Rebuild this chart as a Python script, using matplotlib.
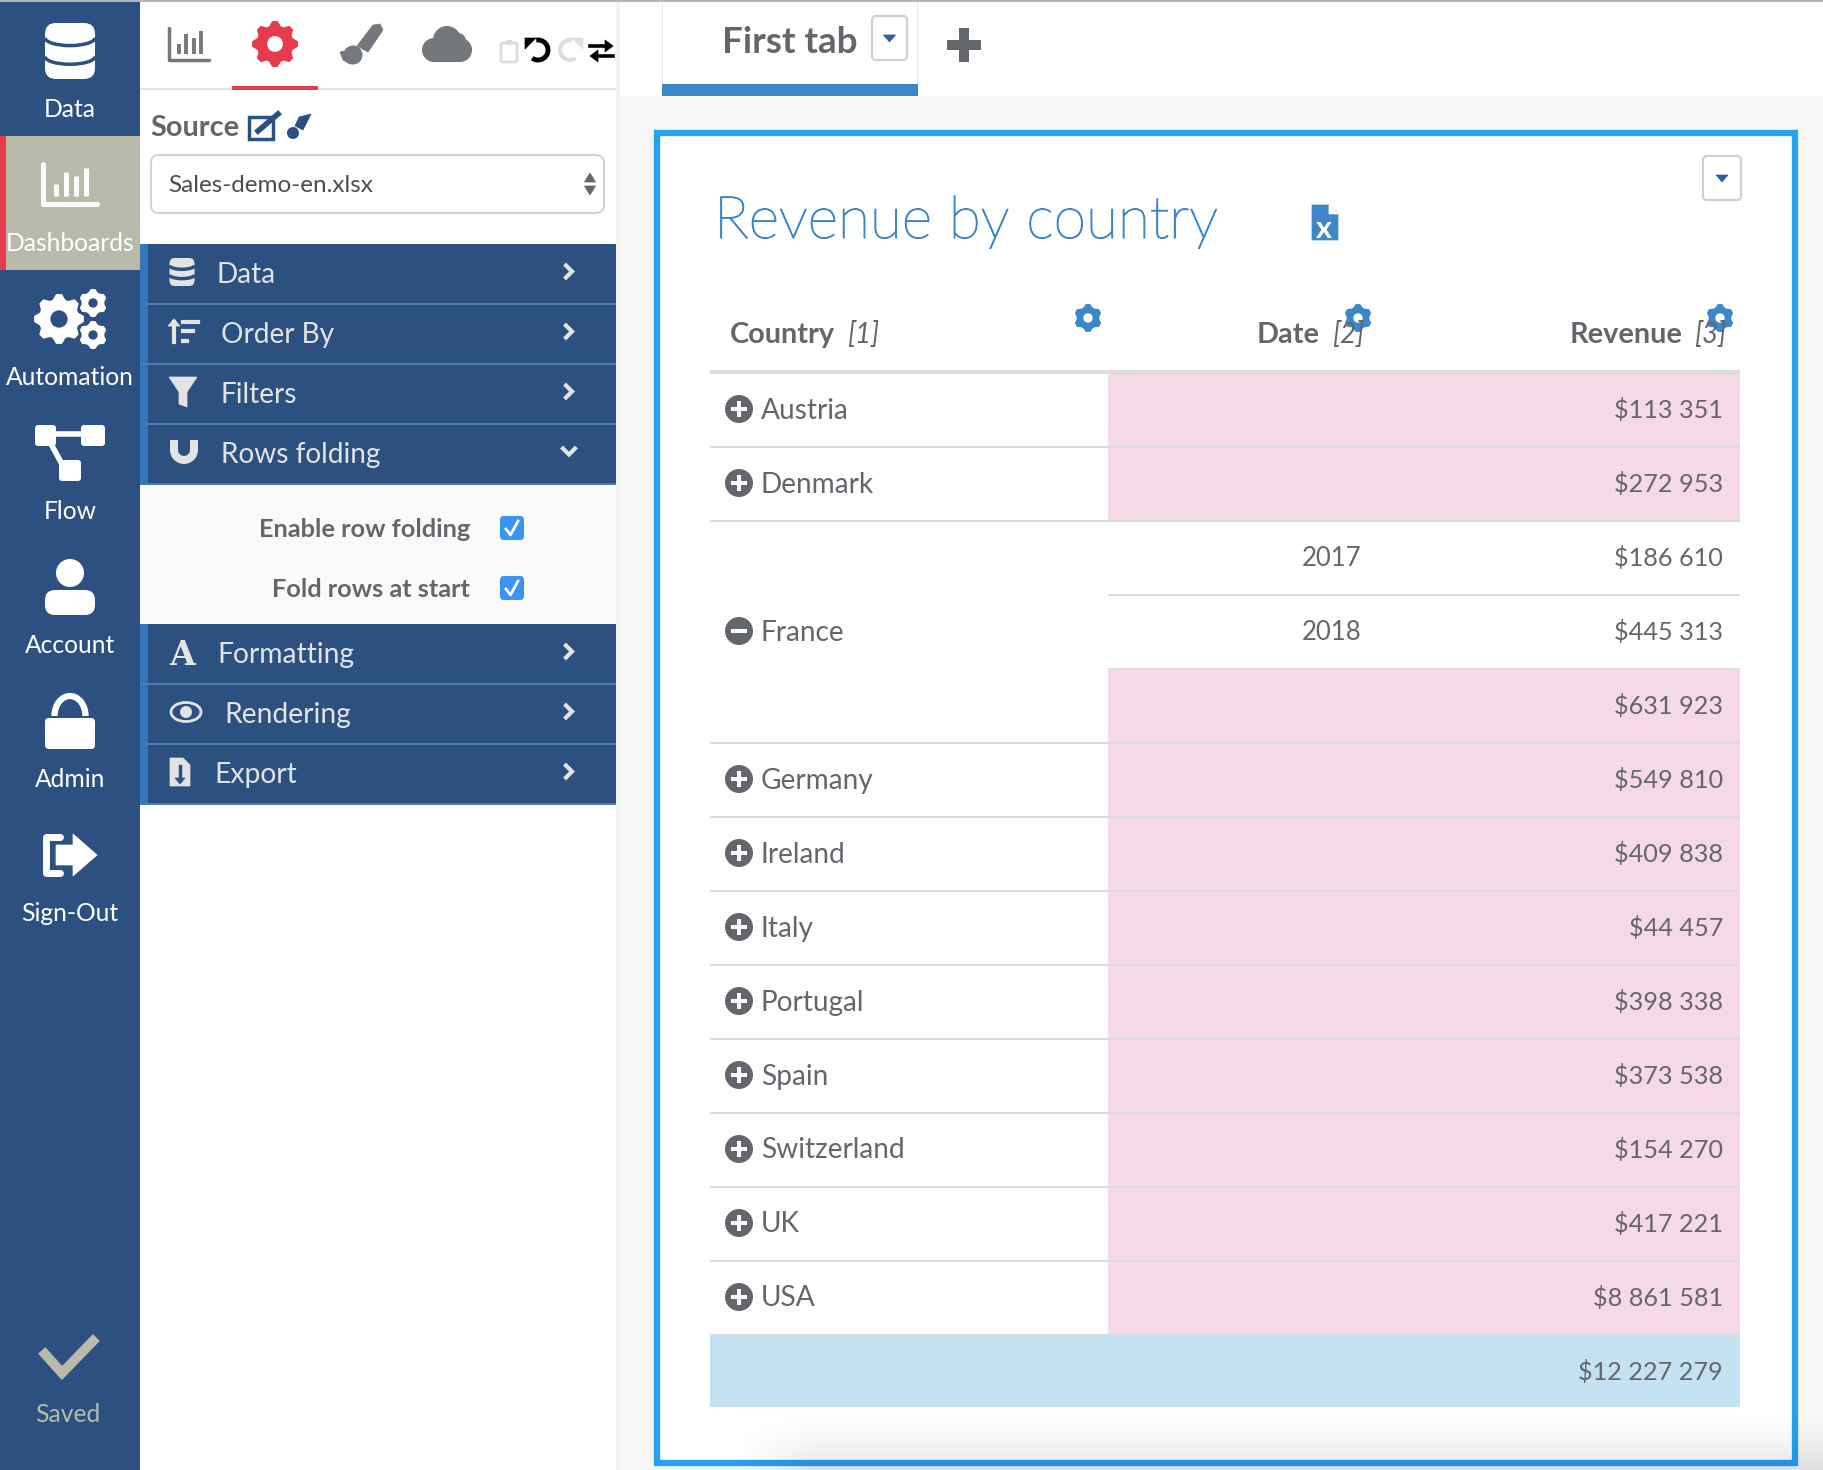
import numpy as np
import matplotlib
matplotlib.use("Agg")
import matplotlib.pyplot as plt
import matplotlib.patheffects as pe
from matplotlib.patches import Rectangle, Circle, Ellipse, Polygon, FancyBboxPatch, Arc, Wedge

plt.rcParams['font.family'] = ['Lato', 'DejaVu Sans']

# table content
row_country = ["Austria", "Denmark", "", "France", "", "Germany", "Ireland", "Italy",
               "Portugal", "Spain", "Switzerland", "UK", "USA"]
row_date = ["", "", "2017", "2018", "", "", "", "", "", "", "", "", ""]
row_revenue = ["$113 351", "$272 953", "$186 610", "$445 313", "$631 923", "$549 810",
               "$409 838", "$44 457", "$398 338", "$373 538", "$154 270", "$417 221",
               "$8 861 581"]
total_revenue = "$12 227 279"
headers = ["Country", "Date", "Revenue"]
header_idx = ["[1]", "[2]", "[3]"]

side_labels = ["Data", "Dashboards", "Automation", "Flow", "Account", "Admin", "Sign-Out"]
menu_top = ["Data", "Order By", "Filters", "Rows folding"]
menu_bottom = ["Formatting", "Rendering", "Export"]
check_labels = ["Enable row folding", "Fold rows at start"]

NAVY = "#2c5181"
STRIP = "#3178b9"
SEP = "#4f7ba5"
BLUE = "#3d87c8"
FRAME = "#24a0f5"
GRAY = "#63676c"
PINK = "#f5d9e7"
LIGHT = "#e3e3e3"
RED = "#e63b4e"
KHAKI = "#b9baa9"

fig = plt.figure(figsize=(18.24, 14.7), dpi=100)
ax = fig.add_axes([0, 0, 1, 1])
ax.axis("off")


def rect(x0, y0, x1, y1, color, z=1):
    ax.add_patch(Rectangle((x0, y0), x1 - x0, y1 - y0, fc=color, ec="none", zorder=z))


def rbox(x0, y0, x1, y1, fc, ec="none", lw=0, r=4, z=3):
    ax.add_patch(FancyBboxPatch((x0 + r, y0 + r), x1 - x0 - 2 * r, y1 - y0 - 2 * r,
                                boxstyle=f"round,pad={r},rounding_size={r}",
                                fc=fc, ec=ec, lw=lw, zorder=z))


def txt(x, y, s, size=20, color=GRAY, ha="left", weight="normal", style="normal", z=5):
    return ax.text(x, y - 1, s, fontsize=size, color=color, ha=ha, va="center_baseline",
                   fontweight=weight, fontstyle=style, zorder=z)


def poly(pts, color, cx=0, cy=0, z=4):
    pts = np.array(pts, dtype=float) + [cx, cy]
    ax.add_patch(Polygon(pts, closed=True, fc=color, ec=color, lw=0.5, joinstyle="round", zorder=z))


def gear(cx, cy, r, color, hole, teeth=6):
    step = 2 * np.pi / (teeth * 4)
    ang = np.arange(teeth * 4) * step + np.pi / 2 - step / 2
    rad = np.where(np.arange(teeth * 4) % 4 < 2, r, r * 0.8)
    ax.add_patch(Polygon(np.c_[cx + rad * np.cos(ang), cy + rad * np.sin(ang)], closed=True,
                         fc=color, ec=color, lw=1.5, joinstyle="round", zorder=4))
    ax.add_patch(Circle((cx, cy), r * 0.36, fc=hole, ec="none", zorder=4.5))


def db_icon(cx, cy, w, h, fg, bg):
    rbox(cx - w / 2, cy - h / 2, cx + w / 2, cy + h / 2, fg, r=w * 0.22, z=4)
    for k in (1 / 3, 2 / 3):
        yy = cy - h / 2 + h * k - h * 0.07
        ax.add_patch(Arc((cx, yy), w, h * 0.28, theta1=0, theta2=180, color=bg,
                         lw=2.5, zorder=4.5))


def bars_icon(cx, cy, hw, hh, color, lw, barw):
    ax.plot([cx - hw, cx - hw, cx + hw], [cy - hh, cy + hh, cy + hh], color=color, lw=lw,
            solid_capstyle="round", solid_joinstyle="round", zorder=4)
    for dx, top in zip((-0.52, -0.15, 0.24, 0.59), (0.0, -0.62, -0.38, -0.79)):
        ax.plot([cx + dx * hw] * 2, [cy + top * hh, cy + 0.6 * hh], color=color, lw=barw,
                solid_capstyle="butt", zorder=4)


def chevron(x, y, color="#e3e3e3", down=False):
    if down:
        xs, ys = [x - 6, x, x + 6], [y - 3, y + 3, y - 3]
    else:
        xs, ys = [x - 3, x + 3, x - 3], [y - 6, y, y + 6]
    ax.plot(xs, ys, color=color, lw=3, zorder=5, solid_joinstyle="miter")


def drop_button(x0, y0, x1, y1):
    rbox(x0, y0, x1, y1, "white", ec="#cfcfcf", lw=1.5, r=4)
    cx, cy = (x0 + x1) / 2, (y0 + y1) / 2
    poly([(-6, -3), (6, -3), (0, 4)], "#2f5f9e", cx, cy)


# backgrounds
rect(0, 0, 1824, 1470, "white", 0)
rect(620, 96, 1824, 1470, "#f7f7f7", 0.5)
rect(616, 0, 620, 1470, "#f3f3f3", 0.6)
rect(0, 0, 1824, 2, "#b5b5b5", 8)

# left sidebar
rect(0, 2, 140, 1470, NAVY)
rect(0, 136, 140, 270, KHAKI, 2)
rect(0, 136, 6, 270, RED, 2.5)
side_y = 107 + 134 * np.arange(len(side_labels))
for lab, yy in zip(side_labels, side_y):
    txt(70, yy + 1, lab, 17.7, "white", ha="center")

# sidebar icons
db_icon(70, 51, 50, 56, "white", NAVY)
bars_icon(70, 184, 27, 20, "white", 3.6, 3.6)
gear(59, 319, 24, "white", NAVY, teeth=8)
gear(93, 303, 13, "white", NAVY)
gear(93, 335, 13, "white", NAVY)
rbox(35, 425, 56, 446, "white", r=3, z=4)
rbox(81, 425, 105, 446, "white", r=3, z=4)
rbox(59, 460, 81, 481, "white", r=3, z=4)
ax.plot([50, 90], [434, 434], color="white", lw=4, zorder=4)
ax.plot([50, 63], [442, 466], color="white", lw=4, zorder=4)
ax.add_patch(Circle((70, 573), 14, fc="white", ec="none", zorder=4))
rbox(45, 590, 95, 615, "white", r=10, z=4)
rbox(45, 718, 95, 749, "white", r=4, z=4)
ax.add_patch(Arc((70, 716), 31, 40, theta1=180, theta2=360, color="white", lw=4.5, zorder=4))
ax.plot([60, 46, 46, 60], [837, 837, 873, 873], color="white", lw=5, zorder=4,
        solid_joinstyle="round", solid_capstyle="round")
poly([(-14, -10), (3, -10), (3, -21), (27, 0), (3, 21), (3, 10), (-14, 10)], "white", 70, 855)
ax.plot([45, 62, 93], [1354, 1373, 1341], color=KHAKI, lw=7, zorder=4, solid_joinstyle="miter")
txt(68, 1414, "Saved", 17.7, KHAKI, ha="center")

# panel toolbar
bars_icon(189, 44, 20, 16, "#74787d", 2.5, 2.8)
gear(275, 44, 22, RED, "white", teeth=8)
rect(232, 86, 318, 90, RED, 3)
rect(140, 88, 616, 90, "#e2e2e2", 2)

# brush
poly([(373, 25), (380, 24), (383, 30), (368, 52), (357, 46)], "#74787d")
ax.add_patch(Circle((353, 55), 9.5, fc="#74787d", ec="none", zorder=4))
poly([(340, 52), (349, 50), (350, 64), (343, 60)], "#74787d")

# cloud
for cx, cy, r in ((434, 50, 12), (447, 40, 14), (460, 50, 12), (458, 41, 8)):
    ax.add_patch(Circle((cx, cy), r, fc="#74787d", ec="none", zorder=4))
rect(434, 46, 460, 62, "#74787d", 4)

# clipboard, undo, redo, swap
rbox(501, 43, 517, 62, "white", ec="#dcdcdc", lw=2, r=2, z=4)
rect(506, 40, 512, 45, "#dcdcdc", 5)
ax.add_patch(Arc((538, 50), 20, 20, theta1=-100, theta2=125, color="black", lw=3.5, zorder=4))
poly([(-13, -12), (-2, -12), (-13, -1)], "black", 538, 50)
ax.add_patch(Arc((570, 50), 20, 20, theta1=55, theta2=280, color="#dddddd", lw=3, zorder=4))
poly([(13, -12), (2, -12), (13, -1)], "#dddddd", 570, 50)
ax.plot([590, 606], [46, 46], color="black", lw=2.6, zorder=5)
poly([(0, -6), (8, 0), (0, 6)], "black", 605, 46, z=5)
ax.plot([597, 613], [56, 56], color="black", lw=2.6, zorder=5)
poly([(0, -6), (-8, 0), (0, 6)], "black", 598, 56, z=5)

# source box
txt(150, 126, "Source", 20.8, GRAY, weight="bold")
ax.add_patch(Rectangle((249, 117), 24, 22, fc="none", ec=NAVY, lw=2.5, zorder=4))
ax.plot([258, 278], [131, 114], color=NAVY, lw=4, zorder=5)
poly([(299, 117), (311, 114), (303, 130), (295, 126)], NAVY)
ax.add_patch(Circle((293, 133), 6, fc=NAVY, ec="none", zorder=4))
rbox(151, 155, 604, 213, "white", ec="#d4d4d4", lw=1.5, r=8)
txt(168, 184, "Sales-demo-en.xlsx", 17.5, "#4a4e52")
poly([(-5.5, 182), (5.5, 182), (0, 173)], GRAY, 590, 0)
poly([(-5.5, 186), (5.5, 186), (0, 195)], GRAY, 590, 0)

# accordion menu
rect(140, 244, 616, 484, NAVY)
rect(140, 484, 616, 624, "#fafafa")
rect(140, 624, 616, 804, NAVY)
rect(140, 244, 148, 484, STRIP, 2)
rect(140, 624, 148, 804, STRIP, 2)
menu_x = [217, 221, 221, 221]
for i, lab in enumerate(menu_top):
    yc = 272.5 + 60 * i
    rect(140, 243 + 60 * (i + 1) - 0.5, 616, 243 + 60 * (i + 1) + 1.5, SEP, 3)
    txt(menu_x[i], yc + 1, lab, 20.2, "#e3e3e3")
    chevron(569, yc - 1, down=i == 3)
menu_x = [217, 224, 214]
for i, lab in enumerate(menu_bottom):
    yc = 652.5 + 60 * i
    rect(140, 623 + 60 * (i + 1) - 0.5, 616, 623 + 60 * (i + 1) + 1.5, SEP, 3)
    txt(menu_x[i], yc + 1, lab, 20.3, "#e3e3e3")
    chevron(569, yc - 1)

# menu icons
db_icon(182, 272, 25, 28, LIGHT, NAVY)
ax.plot([174, 174], [342, 322], color=LIGHT, lw=3, zorder=4)
poly([(-6, 0), (6, 0), (0, -7)], LIGHT, 174, 326)
for yy, xx in ((322, 198), (331, 193), (341, 187)):
    ax.plot([183, xx], [yy, yy], color=LIGHT, lw=3, zorder=4)
poly([(-14, -15), (14, -15), (4, 0), (4, 15), (-4, 12), (-4, 0)], LIGHT, 183, 392)
ax.add_patch(Wedge((184, 450), 14, 0, 180, width=8, fc=LIGHT, ec="none", zorder=4))
rect(170, 440, 178, 450, LIGHT, 4)
rect(190, 440, 198, 450, LIGHT, 4)
ax.text(182, 652, "A", fontsize=24, color=LIGHT, family="DejaVu Serif", fontweight="bold",
        ha="center", va="center_baseline", zorder=5)
ax.add_patch(Ellipse((186, 712), 30, 19, fc="none", ec=LIGHT, lw=2, zorder=4))
ax.add_patch(Circle((186, 712), 6, fc=LIGHT, ec="none", zorder=4))
poly([(-10, -14), (3, -14), (10, -7), (10, 14), (-10, 14)], LIGHT, 180, 772)
ax.plot([180, 180], [766, 778], color=NAVY, lw=2.5, zorder=5)
poly([(-5, 0), (5, 0), (0, 6)], NAVY, 180, 778, z=5)

# folding options
for i, lab in enumerate(check_labels):
    yc = 528 + 60 * i
    txt(470, yc, lab, 18.3, GRAY, ha="right", weight="bold")
    rbox(500, yc - 12, 524, yc + 12, "#3b93f3", r=4, z=4)
    ax.plot([506, 510.5, 518], [yc + 1, yc + 7, yc - 7], color="white", lw=2, zorder=5)

# tabs
rect(662, 2, 663, 84, "#e9e9e9", 2)
rect(917, 2, 918, 84, "#e9e9e9", 2)
rect(662, 84, 918, 96, BLUE, 3)
txt(722, 40, "First tab", 26.5, GRAY, weight="bold")
drop_button(872, 16, 907, 60)
rect(959, 28, 969, 62, GRAY, 3)
rect(947, 40, 981, 50, GRAY, 3)

# table frame
ax.add_patch(Rectangle((657, 133), 1138, 1330, fc="white", ec=FRAME, lw=4.5, zorder=1))
title = txt(714, 217, "Revenue by country", 42.3, BLUE, weight="light")
title.set_path_effects([pe.withStroke(linewidth=0.9, foreground=BLUE)])
poly([(0, 0), (17, 0), (26, 9), (26, 35), (0, 35)], BLUE, 1312, 205)
poly([(17, 0), (26, 9), (17, 9)], "white", 1312, 205, z=4.5)
txt(1324, 227, "x", 22, "white", ha="center", weight="bold")
drop_button(1703, 156, 1741, 200)

# header
head_x = [730, 1257, 1570]
idx_x = [847, 1332, 1694]
for name, idx, hx, ix in zip(headers, header_idx, head_x, idx_x):
    txt(hx, 333, name, 20.8, GRAY, weight="bold")
    txt(ix, 333, idx, 20, GRAY, style="italic")
for gx in (1088, 1358, 1720):
    gear(gx, 318, 13, BLUE, "white")
rect(710, 370, 1740, 374, "#dddddd", 3)

# table rows
row_h = 74
y0 = 373
for i, (country, date, rev) in enumerate(zip(row_country, row_date, row_revenue)):
    top = y0 + i * row_h
    yc = top + row_h / 2
    if date == "":
        rect(1108, top, 1740, top + row_h, PINK, 2)
    in_group = row_country[i] == "France" or i == 2
    line_x0 = 1108 if in_group else 710
    rect(line_x0, top + row_h - 1, 1740, top + row_h + 1, "#dcdcdc", 3)
    if date:
        txt(1332, yc - 1, date, 18.5, GRAY, ha="center")
    txt(1723, yc - 1, rev, 18.2, GRAY, ha="right")
    if country:
        txt(761, yc - 1, country, 20.2, GRAY)
        ax.add_patch(Circle((739, yc - 1), 14, fc=GRAY, ec="none", zorder=4))
        rect(731, yc - 3, 747, yc + 1, "white", 5)
        if country != "France":
            rect(737, yc - 9, 741, yc + 7, "white", 5)

# total row
top = y0 + len(row_country) * row_h
rect(710, top, 1740, top + row_h - 2, "#c5e2f3", 2)
txt(1723, top + row_h / 2 - 1, total_revenue, 18.2, GRAY, ha="right")

# soft shadow at the bottom of the page
gx, gy = np.meshgrid(np.linspace(0, 1, 300), np.linspace(0, 1, 60))
shade = np.zeros((60, 300, 4))
shade[..., 3] = 0.10 * gy ** 1.5 * np.clip(gx * 14 - 0.4, 0, 1)
ax.imshow(shade, extent=(700, 1824, 1470, 1408), aspect="auto", zorder=2.5)

ax.set_xlim(0, 1824)
ax.set_ylim(1470, 0)
fig.savefig("out.png", dpi=100)
